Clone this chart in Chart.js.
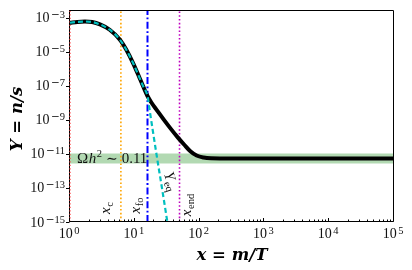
<!DOCTYPE html>
<html>
<head>
<meta charset="utf-8">
<script src="https://cdn.jsdelivr.net/npm/chart.js@4.4.1/dist/chart.umd.min.js"></script>
<style>
html, body { margin: 0; padding: 0; background: #fff; }
#wrap { width: 412px; height: 270px; position: relative; }
</style>
</head>
<body>
<div id="wrap"><canvas id="freezeout"></canvas></div>
<script>
// values: Y = n/s against x = m/T
var yieldX = [1, 1.3, 1.7, 2.2, 2.9, 4.1, 5.9, 7.4, 9.4, 11.9, 13.5, 15.7, 18, 22, 28, 36, 46, 58, 72, 90, 115, 150, 220, 1000, 100000];
var yieldY = [5.25e-4, 5.9e-4, 6.2e-4, 5.75e-4, 4.17e-4, 2.04e-4, 5.25e-5, 1.35e-5, 2.24e-6, 2.88e-7, 9.3e-8, 2.57e-8, 1.07e-8, 3.7e-9, 1.05e-9, 3.0e-10, 9.5e-11, 3.5e-11, 1.45e-11, 8.1e-12, 6.2e-12, 5.6e-12, 5.5e-12, 5.4e-12, 5.4e-12];

// equilibrium yield Y_eq (dashed)
var yeqX = [1, 1.3, 1.7, 2.2, 2.9, 4.1, 5.9, 7.4, 9.4, 11.9, 13.5, 15.7, 17, 19, 22, 26, 31.8];
var yeqY = [5.25e-4, 5.9e-4, 6.2e-4, 5.75e-4, 4.17e-4, 2.04e-4, 5.25e-5, 1.35e-5, 2.24e-6, 2.88e-7, 9.3e-8, 2.57e-8, 3.55e-9, 2.24e-10, 6.3e-12, 1.26e-13, 1e-15];

// vertical markers: x = 1, x_c, x_fo, x_end
var markerX = [1, 6.1, 15.7, 49];
var markerSub = ["", "c", "fo", "end"];

// relic band  Omega h^2 ~ 0.11
var bandX = [1, 100000];
var bandTop = 1.07e-11;
var bandBottom = 2.75e-12;

var xMin = 1, xMax = 1e5;
var yMin = 1e-15, yMax = 2.95e-3;
var xTickExps = [0, 1, 2, 3, 4, 5];
var yTickExps = [-15, -13, -11, -9, -7, -5, -3];

var serif = '"Liberation Serif", "DejaVu Serif", serif';

function pts(xs, ys) {
  return xs.map(function (v, i) { return { x: v, y: ys[i] }; });
}

function vline(v) {
  return [{ x: v, y: yMin }, { x: v, y: yMax }];
}

// "10" with a raised exponent
function powLabel(ctx, px, py, exp, align) {
  var sign = exp < 0 ? "\u2212" : "";
  var digits = String(Math.abs(exp));
  ctx.font = "14px " + serif;
  var wb = ctx.measureText("10").width;
  ctx.font = '10.5px "DejaVu Serif"';
  var wm = sign ? ctx.measureText(sign).width : 0;
  ctx.font = "10.5px " + serif;
  var wd = ctx.measureText(digits).width;
  var w = wb + 1.5 + wm + wd;
  var left = align === "right" ? px - w : px - w / 2;
  ctx.textAlign = "left";
  ctx.textBaseline = "alphabetic";
  ctx.font = "14px " + serif;
  ctx.fillText("10", left, py + 4.5);
  if (sign) {
    ctx.font = '10.5px "DejaVu Serif"';
    ctx.fillText(sign, left + wb + 1.5, py + 0.5);
  }
  ctx.font = "10.5px " + serif;
  ctx.fillText(digits, left + wb + 1.5 + wm, py + 0.5);
}

// italic symbol with upright subscript, centred on (cx, cy)
function subLabel(ctx, cx, cy, angle, main, sub) {
  ctx.save();
  ctx.translate(cx, cy);
  ctx.rotate(angle);
  ctx.font = "italic 15px " + serif;
  var w1 = ctx.measureText(main).width;
  ctx.font = "10.5px " + serif;
  var w2 = ctx.measureText(sub).width;
  var start = -(w1 + w2 + 0.5) / 2;
  ctx.textAlign = "left";
  ctx.textBaseline = "alphabetic";
  ctx.font = "italic 15px " + serif;
  ctx.fillText(main, start, 3.5);
  ctx.font = "10.5px " + serif;
  ctx.fillText(sub, start + w1 + 0.5, 6.5);
  ctx.restore();
}

var decor = {
  id: "decor",
  beforeDatasetsDraw: function (chart) {
    var ctx = chart.ctx, a = chart.chartArea;
    ctx.save();
    ctx.strokeStyle = "#000";
    ctx.lineWidth = 1;
    ctx.beginPath();
    ctx.moveTo(Math.round(a.left) - 0.5, a.top);
    ctx.lineTo(Math.round(a.left) - 0.5, a.bottom);
    ctx.stroke();
    ctx.restore();
  },
  afterDatasetsDraw: function (chart) {
    var ctx = chart.ctx, a = chart.chartArea;
    var xs = chart.scales.x, ys = chart.scales.y;
    var L = Math.round(a.left) - 0.5, R = Math.round(a.right) - 0.5;
    var T = Math.round(a.top) + 0.5, B = Math.round(a.bottom) - 0.5;
    ctx.save();
    ctx.strokeStyle = "#000";
    ctx.lineWidth = 1;
    ctx.beginPath();
    ctx.moveTo(L, T); ctx.lineTo(R, T); ctx.lineTo(R, B); ctx.lineTo(L, B);
    // x ticks, pointing in
    xTickExps.forEach(function (e) {
      var p = Math.round(xs.getPixelForValue(Math.pow(10, e))) - 0.5;
      ctx.moveTo(p, B); ctx.lineTo(p, B - 3.5);
      if (e < 5) {
        for (var m = 2; m < 10; m++) {
          var q = Math.round(xs.getPixelForValue(m * Math.pow(10, e))) - 0.5;
          ctx.moveTo(q, B); ctx.lineTo(q, B - 2);
        }
      }
    });
    // y ticks, pointing out
    yTickExps.forEach(function (e) {
      var p = Math.round(ys.getPixelForValue(Math.pow(10, e))) + 0.5;
      ctx.moveTo(L, p); ctx.lineTo(L - 3.5, p);
    });
    ctx.stroke();

    ctx.fillStyle = "#111";
    // relic density text on the band
    var ty = ys.getPixelForValue(bandBottom) - 1;
    var tx = a.left + 7;
    ctx.textAlign = "left";
    ctx.textBaseline = "alphabetic";
    ctx.font = "15px " + serif;
    ctx.fillText("\u03A9", tx, ty);
    tx += ctx.measureText("\u03A9").width + 0.5;
    ctx.font = "italic 15px " + serif;
    ctx.fillText("h", tx, ty);
    tx += ctx.measureText("h").width + 0.5;
    ctx.font = "10.5px " + serif;
    ctx.fillText("2", tx, ty - 6);
    tx += ctx.measureText("2").width + 4;
    ctx.font = '14px "DejaVu Serif"';
    ctx.fillText("\u223C", tx, ty);
    tx += ctx.measureText("\u223C").width + 4;
    ctx.font = "15px " + serif;
    ctx.fillText("0.11", tx, ty);

    // marker labels
    var px;
    px = xs.getPixelForValue(markerX[1]);
    subLabel(ctx, px - 14, a.bottom - 14, -Math.PI / 2, "x", markerSub[1]);
    px = xs.getPixelForValue(markerX[2]);
    subLabel(ctx, px - 11, a.bottom - 16.5, -Math.PI / 2, "x", markerSub[2]);
    px = xs.getPixelForValue(markerX[3]);
    subLabel(ctx, px + 8, a.bottom - 17, -Math.PI / 2, "x", markerSub[3]);
    px = xs.getPixelForValue(yeqX[14]);
    subLabel(ctx, px + 13, ys.getPixelForValue(yeqY[14]) + 24, 71 * Math.PI / 180, "Y", "eq");
    ctx.restore();
  },
  afterDraw: function (chart) {
    var ctx = chart.ctx, a = chart.chartArea;
    var xs = chart.scales.x, ys = chart.scales.y;
    ctx.save();
    ctx.fillStyle = "#111";
    xTickExps.forEach(function (e) {
      powLabel(ctx, xs.getPixelForValue(Math.pow(10, e)) - 1, a.bottom + 11, e, "center");
    });
    yTickExps.forEach(function (e) {
      powLabel(ctx, a.left - 5, ys.getPixelForValue(Math.pow(10, e)), e, "right");
    });
    // axis titles
    ctx.font = 'bold italic 16.5px "DejaVu Serif"';
    ctx.textAlign = "center";
    ctx.textBaseline = "alphabetic";
    ctx.fillStyle = "#000";
    ctx.fillText("x = m/T", (a.left + a.right) / 2, 260);
    ctx.translate(22, (a.top + a.bottom) / 2 + 3);
    ctx.rotate(-Math.PI / 2);
    ctx.fillText("Y = n/s", 0, 0);
    ctx.restore();
  }
};

var ctx = document.getElementById("freezeout").getContext("2d");

var chart = new Chart(ctx, {
  type: "line",
  data: {
    datasets: [
      {
        label: "Y_eq",
        data: pts(yeqX, yeqY),
        borderColor: "#00bfbf",
        borderWidth: 2.2,
        borderDash: [5, 3],
        pointRadius: 0,
        cubicInterpolationMode: "monotone",
        fill: false,
      },
      {
        label: "Y",
        data: pts(yieldX, yieldY),
        borderColor: "#000",
        borderWidth: 4,
        borderJoinStyle: "round",
        borderCapStyle: "round",
        pointRadius: 0,
        cubicInterpolationMode: "monotone",
        fill: false,
      },
      {
        label: "x = 1",
        data: vline(markerX[0]),
        borderColor: "#ff4040",
        borderWidth: 1.3,
        borderDash: [1.3, 2.2],
        pointRadius: 0,
        clip: 3,
        fill: false,
      },
      {
        label: "x_c",
        data: vline(markerX[1]),
        borderColor: "#ffa500",
        borderWidth: 1.6,
        borderDash: [1.6, 2.2],
        pointRadius: 0,
        fill: false,
      },
      {
        label: "x_fo",
        data: vline(markerX[2]),
        borderColor: "#0000ff",
        borderWidth: 2,
        borderDash: [7, 2.5, 1.8, 2.5],
        pointRadius: 0,
        fill: false,
      },
      {
        label: "x_end",
        data: vline(markerX[3]),
        borderColor: "#bf00bf",
        borderWidth: 1.6,
        borderDash: [1.6, 2.2],
        pointRadius: 0,
        fill: false,
      },
      {
        label: "band",
        data: pts(bandX, [bandTop, bandTop]),
        borderColor: "rgba(0,0,0,0)",
        borderWidth: 0,
        backgroundColor: "rgba(0,128,0,0.3)",
        pointRadius: 0,
        fill: { value: bandBottom },
      },
    ],
  },
  options: {
    responsive: true,
    maintainAspectRatio: false,
    animation: false,
    events: [],
    layout: { padding: { left: 70, right: 18, top: 10, bottom: 48 } },
    scales: {
      x: { type: "logarithmic", min: xMin, max: xMax, display: false },
      y: { type: "logarithmic", min: yMin, max: yMax, display: false },
    },
    plugins: {
      legend: { display: false },
      tooltip: { enabled: false },
    },
  },
  plugins: [decor],
});
</script>
</body>
</html>
